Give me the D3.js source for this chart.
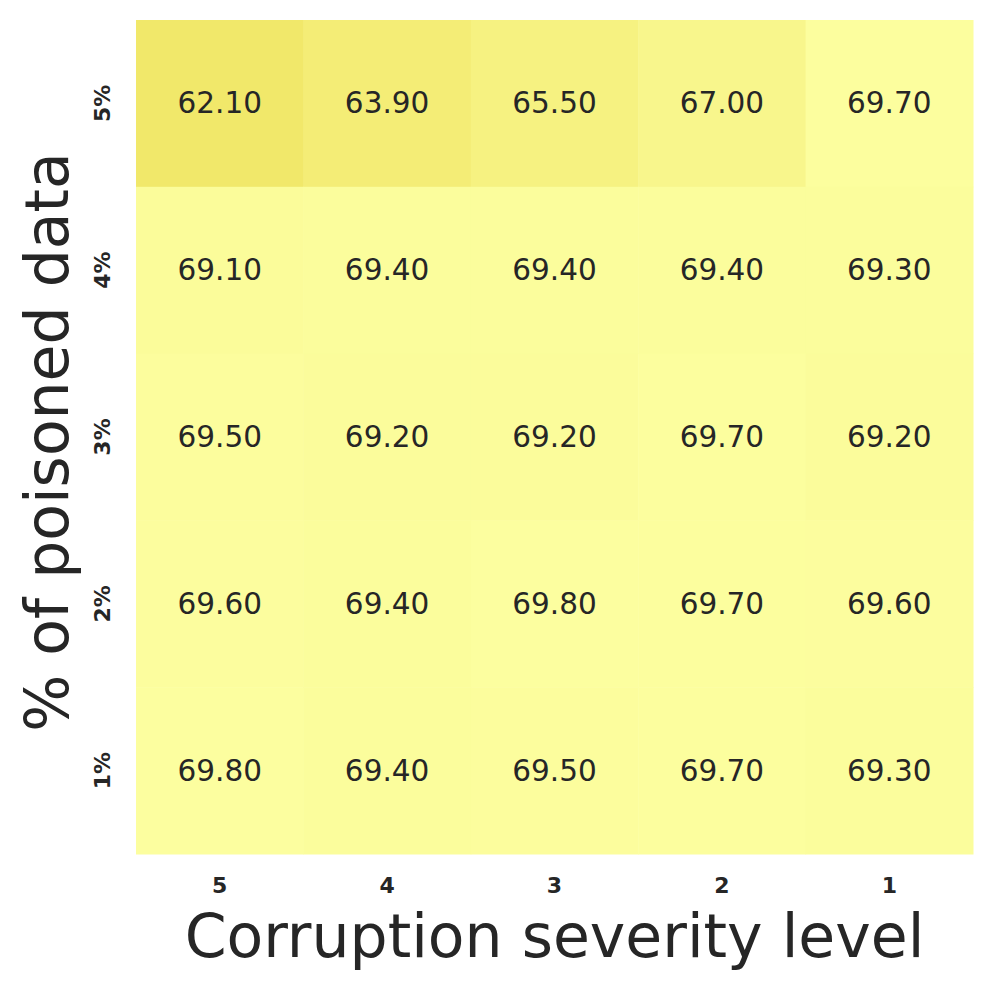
<!DOCTYPE html>
<html>
<head>
<meta charset="utf-8">
<script src="https://cdn.jsdelivr.net/npm/d3@7"></script>
<style>
  body { margin: 0; background: #fff; }
  text { font-family: "DejaVu Sans", sans-serif; fill: #262626; }
</style>
</head>
<body>
<svg id="chart" width="995" height="990"></svg>
<script>
// columns: corruption severity level, rows: % of poisoned data (top to bottom)
const severityLevels = ['5', '4', '3', '2', '1']
const poisonRates = ['5%', '4%', '3%', '2%', '1%']
const row5 = [62.1, 63.9, 65.5, 67.0, 69.7]
const row4 = [69.1, 69.4, 69.4, 69.4, 69.3]
const row3 = [69.5, 69.2, 69.2, 69.7, 69.2]
const row2 = [69.6, 69.4, 69.8, 69.7, 69.6]
const row1 = [69.8, 69.4, 69.5, 69.7, 69.3]
const rows = [row5, row4, row3, row2, row1]

const cells = []
rows.forEach((r, i) => r.forEach((v, j) => cells.push({ row: poisonRates[i], col: severityLevels[j], value: v })))

const svg = d3.select('#chart')
const plotLeft = 136, plotRight = 973, plotTop = 20, plotBottom = 854

const x = d3.scaleBand().domain(severityLevels).range([plotLeft, plotRight])
const y = d3.scaleBand().domain(poisonRates).range([plotTop, plotBottom])
const color = d3.scaleLinear()
  .domain([d3.min(cells, d => d.value), d3.max(cells, d => d.value)])
  .range(['#f1e86a', '#fcfe9f'])

svg.selectAll('.cell').data(cells).enter().append('rect')
  .attr('class', 'cell')
  .attr('x', d => x(d.col))
  .attr('y', d => y(d.row))
  .attr('width', x.bandwidth() + 0.5)
  .attr('height', y.bandwidth() + 0.5)
  .attr('fill', d => color(d.value))

svg.selectAll('.val').data(cells).enter().append('text')
  .attr('class', 'val')
  .attr('x', d => x(d.col) + x.bandwidth() / 2)
  .attr('y', d => y(d.row) + y.bandwidth() / 2)
  .attr('text-anchor', 'middle')
  .attr('dominant-baseline', 'central')
  .attr('font-size', 29.5)
  .text(d => d.value.toFixed(2))

// x tick labels
svg.selectAll('.xtick').data(severityLevels).enter().append('text')
  .attr('class', 'xtick')
  .attr('x', d => x(d) + x.bandwidth() / 2)
  .attr('y', 893)
  .attr('text-anchor', 'middle')
  .attr('font-size', 22)
  .attr('font-weight', 'bold')
  .text(d => d)

// y tick labels
svg.selectAll('.ytick').data(poisonRates).enter().append('text')
  .attr('class', 'ytick')
  .attr('transform', d => 'translate(110,' + (y(d) + y.bandwidth() / 2) + ') rotate(-90)')
  .attr('text-anchor', 'middle')
  .attr('font-size', 22)
  .attr('font-weight', 'bold')
  .text(d => d)

svg.append('text')
  .attr('x', (plotLeft + plotRight) / 2)
  .attr('y', 957)
  .attr('text-anchor', 'middle')
  .attr('font-size', 60)
  .text('Corruption severity level')

svg.append('text')
  .attr('transform', 'translate(68,442) rotate(-90)')
  .attr('text-anchor', 'middle')
  .attr('font-size', 60)
  .text('% of poisoned data')
</script>
</body>
</html>
